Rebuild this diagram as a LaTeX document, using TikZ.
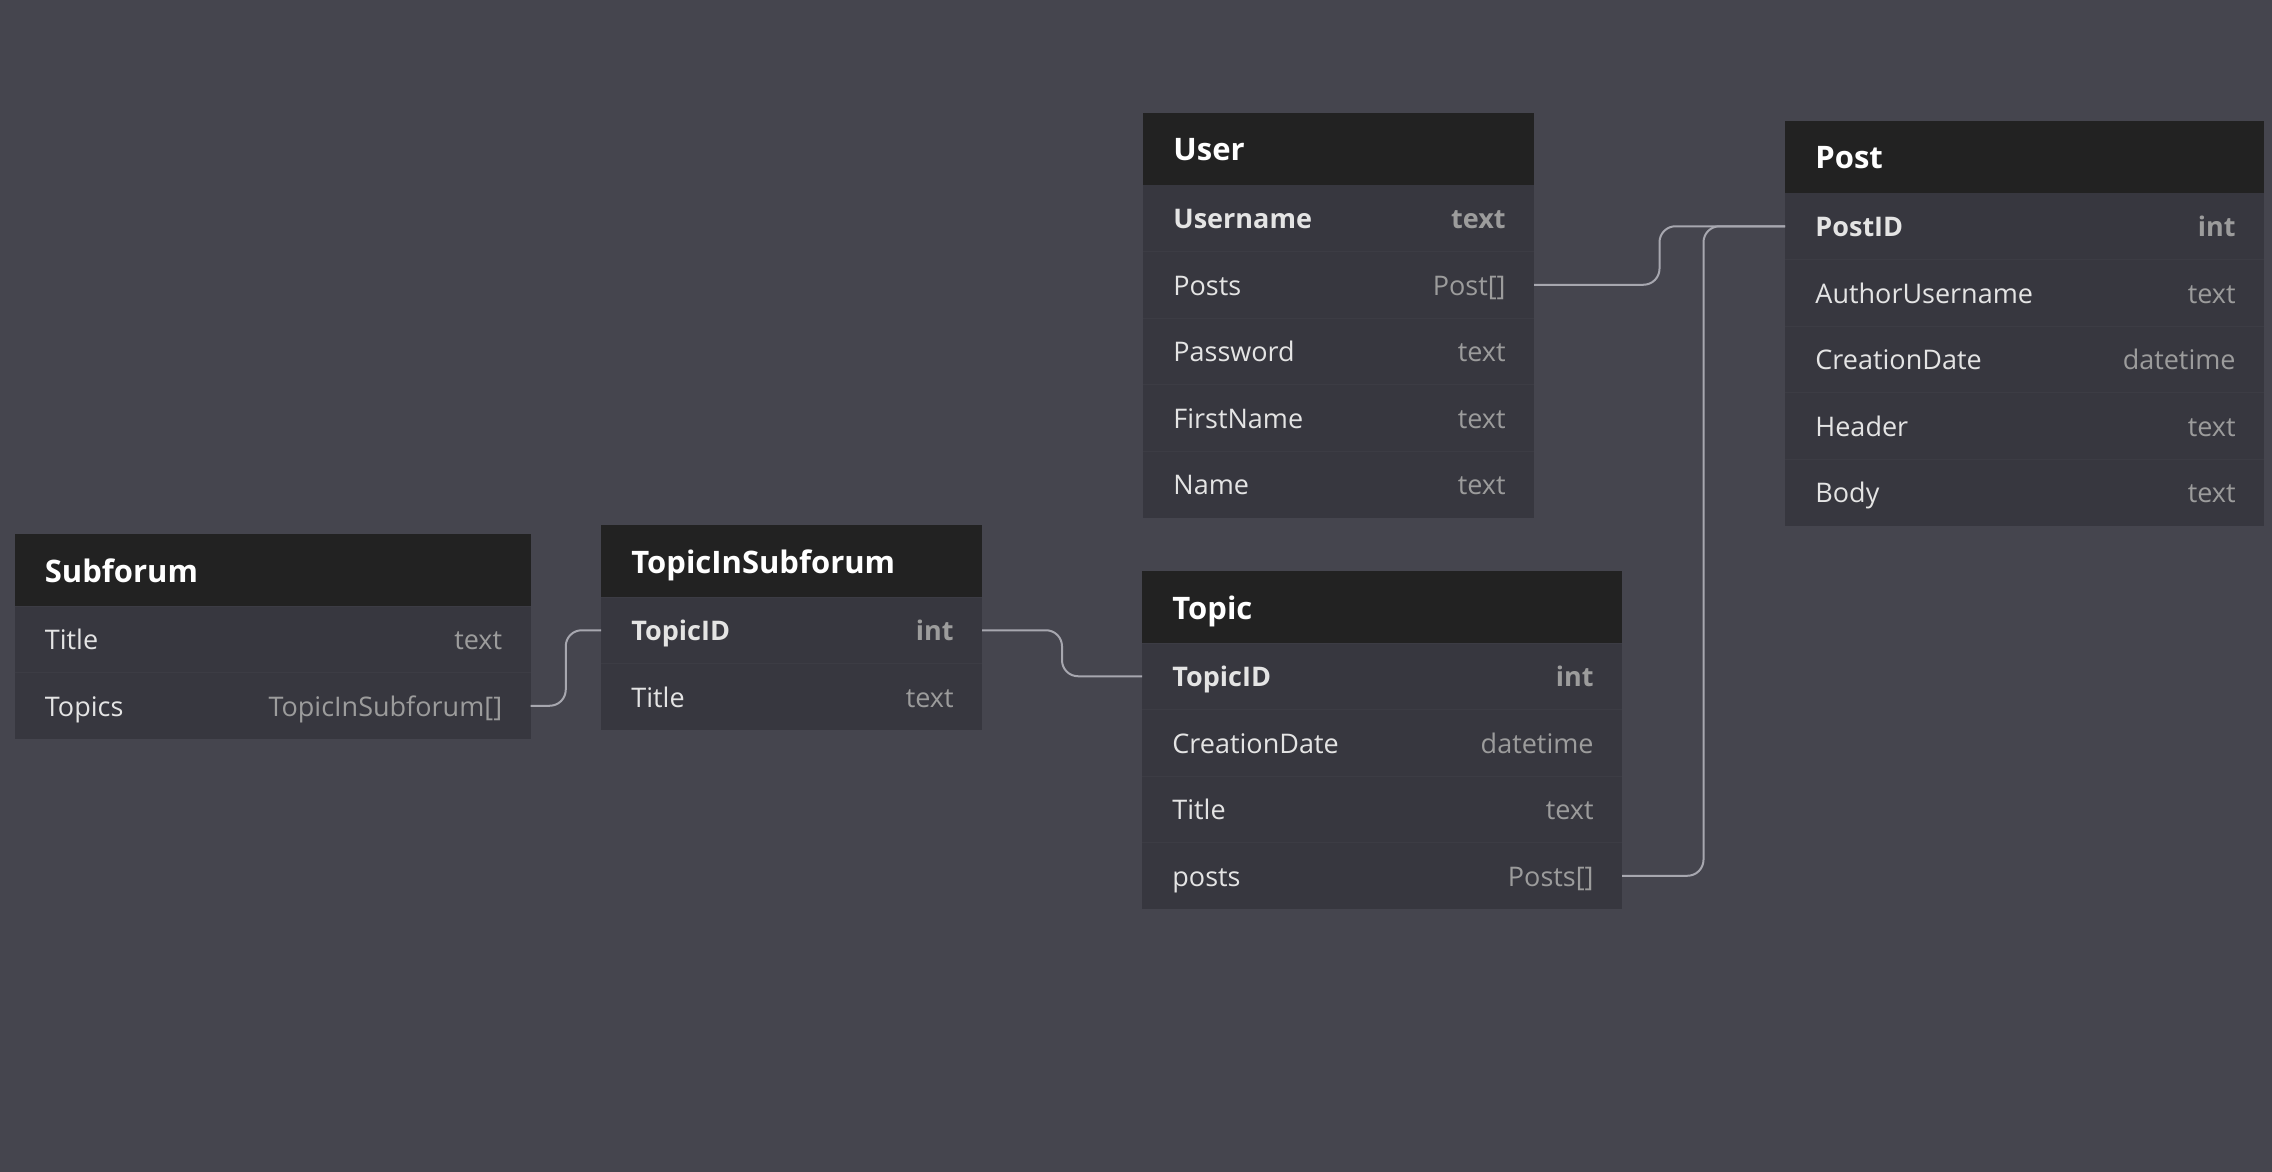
\documentclass[tikz,border=0pt]{standalone}
\usepackage{fontspec}
\setmainfont{Open Sans}
\usetikzlibrary{calc}
\definecolor{bgc}{HTML}{45454E}
\definecolor{rowc}{HTML}{37373F}
\definecolor{sepc}{HTML}{3C3C44}
\definecolor{headc}{HTML}{222222}
\definecolor{fieldc}{HTML}{E4E4E4}
\definecolor{typec}{HTML}{9C9C9C}
\definecolor{connc}{HTML}{A7A7AF}
\tikzset{
 rowbox/.style={fill=rowc, inner sep=0pt, outer sep=0pt, minimum height=33.25pt, anchor=north west},
 headbox/.style={fill=headc, inner sep=0pt, outer sep=0pt, minimum height=36pt, anchor=north west},
 txt/.style={inner sep=0pt, text height=9.6pt, text depth=0pt, font=\fontsize{13.5}{16}\selectfont},
 fieldtxt/.style={txt, text=fieldc, anchor=west},
 typetxt/.style={txt, text=typec, anchor=east},
 keyfield/.style={fieldtxt, font=\fontsize{13.5}{16}\selectfont\bfseries},
 keytype/.style={typetxt, font=\fontsize{13.5}{16}\selectfont\bfseries},
 titletxt/.style={inner sep=0pt, text height=11pt, text depth=0pt, text=white, font=\fontsize{15.5}{18}\selectfont\bfseries, anchor=west},
 conn/.style={draw=connc, line width=1pt, rounded corners=8pt},
 sepline/.style={draw=sepc, line width=0.5pt},
}
\newcommand\ertitle[5]{%
 \node[headbox, minimum width=#4] (#1) at (#2,#3) {};
 \node[titletxt] (#1-t) at ([xshift=15pt,yshift=-0.5pt]#1.west) {#5};}
\newcommand\errow[8]{%
 \node[rowbox, minimum width=#4] (#1) at (#2,#3) {};
 \draw[sepline] (#1.north west) -- (#1.north east);
 \node[#7] (#1-f) at ([xshift=15pt,yshift=-0.5pt]#1.west) {#5};
 \node[#8] (#1-v) at ([xshift=-14pt,yshift=-0.5pt]#1.east) {#6};}
\newcommand\erlink[3]{% from, to, name of the bend coordinate
 \coordinate (#3) at ($(#1.east)!.5!(#2.west)$);
 \draw[conn] (#1.east) -- (#3 |- #1.east) -- (#3 |- #2.west) -- (#2.west);}
\begin{document}
\begin{tikzpicture}[x=0.5pt,y=-0.5pt]
\fill[bgc] (0,0) rectangle (2272,1172);
\useasboundingbox (0,0) rectangle (2272,1172);
% Subforum
\errow{sub-1}{14.5}{606}{258pt}{Title}{text}{fieldtxt}{typetxt}
\errow{sub-2}{14.5}{672.5}{258pt}{Topics}{TopicInSubforum[]}{fieldtxt}{typetxt}
\ertitle{sub}{14.5}{534}{258pt}{Subforum}
% TopicInSubforum
\errow{tis-1}{601}{597}{190.5pt}{TopicID}{int}{keyfield}{keytype}
\errow{tis-2}{601}{663.5}{190.5pt}{Title}{text}{fieldtxt}{typetxt}
\ertitle{tis}{601}{525}{190.5pt}{TopicInSubforum}
% User
\errow{user-1}{1143}{185}{195.5pt}{Username}{text}{keyfield}{keytype}
\errow{user-2}{1143}{251.5}{195.5pt}{Posts}{Post[]}{fieldtxt}{typetxt}
\errow{user-3}{1143}{318}{195.5pt}{Password}{text}{fieldtxt}{typetxt}
\errow{user-4}{1143}{384.5}{195.5pt}{FirstName}{text}{fieldtxt}{typetxt}
\errow{user-5}{1143}{451}{195.5pt}{Name}{text}{fieldtxt}{typetxt}
\ertitle{user}{1143}{113}{195.5pt}{User}
% Post
\errow{post-1}{1785}{193}{239.5pt}{PostID}{int}{keyfield}{keytype}
\errow{post-2}{1785}{259.5}{239.5pt}{AuthorUsername}{text}{fieldtxt}{typetxt}
\errow{post-3}{1785}{326}{239.5pt}{CreationDate}{datetime}{fieldtxt}{typetxt}
\errow{post-4}{1785}{392.5}{239.5pt}{Header}{text}{fieldtxt}{typetxt}
\errow{post-5}{1785}{459}{239.5pt}{Body}{text}{fieldtxt}{typetxt}
\ertitle{post}{1785}{121}{239.5pt}{Post}
% Topic
\errow{topic-1}{1142}{643}{240pt}{TopicID}{int}{keyfield}{keytype}
\errow{topic-2}{1142}{709.5}{240pt}{CreationDate}{datetime}{fieldtxt}{typetxt}
\errow{topic-3}{1142}{776}{240pt}{Title}{text}{fieldtxt}{typetxt}
\errow{topic-4}{1142}{842.5}{240pt}{posts}{Posts[]}{fieldtxt}{typetxt}
\ertitle{topic}{1142}{571}{240pt}{Topic}
% connectors
\erlink{sub-2}{tis-1}{b1}
\erlink{tis-1}{topic-1}{b2}
\erlink{user-2}{post-1}{b3}
\erlink{topic-4}{post-1}{b4}
\end{tikzpicture}
\end{document}
